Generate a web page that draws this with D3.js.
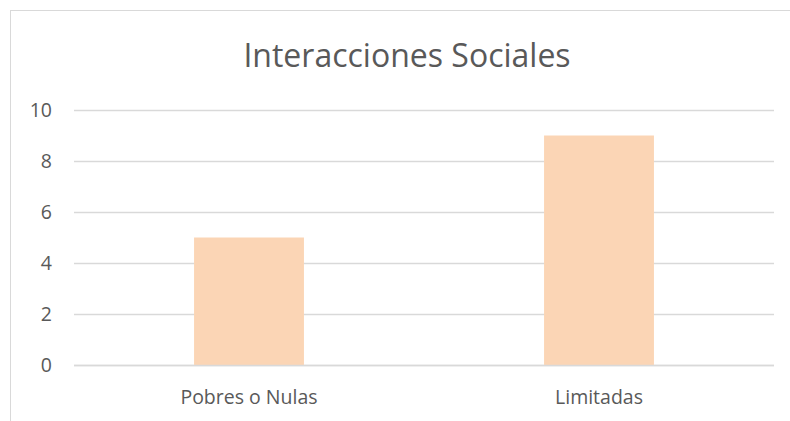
<!DOCTYPE html>
<html>
<head>
<meta charset="utf-8">
<script src="https://cdn.jsdelivr.net/npm/d3@7"></script>
<style>
  body { margin: 0; background: #fff; }
  svg text { font-family: "Open Sans", sans-serif; fill: #595959; }
</style>
</head>
<body>
<div id="chart"></div>
<script>
// Chart data
const categories = ["Pobres o Nulas", "Limitadas"];
const values = [5, 9];
const yTicks = [0, 2, 4, 6, 8, 10];

const width = 790;
const height = 421;

const svg = d3.select('#chart')
    .append('svg')
    .attr('width', width)
    .attr('height', height);

// Chart border (only top and left visible in the frame)
svg.append('rect')
    .attr('x', 10.5)
    .attr('y', 10.5)
    .attr('width', 820)
    .attr('height', 440)
    .attr('fill', 'none')
    .attr('stroke', '#d9d9d9');

// Title
svg.append('text')
    .attr('x', 407)
    .attr('y', 67)
    .attr('text-anchor', 'middle')
    .attr('font-size', '32px')
    .text('Interacciones Sociales');

// Scales
const x = d3.scaleBand()
    .domain(categories)
    .range([74, 774])
    .paddingInner(0.686)
    .paddingOuter(0.343);

const y = d3.scaleLinear()
    .domain([0, 10])
    .range([365, 110]);

// Gridlines
svg.append('g')
    .selectAll('line')
    .data(yTicks)
    .join('line')
    .attr('x1', 74)
    .attr('x2', 774)
    .attr('y1', d => Math.round(y(d)) + 0.5)
    .attr('y2', d => Math.round(y(d)) + 0.5)
    .attr('stroke', '#d9d9d9')
    .attr('stroke-width', 1.3);

// Y tick labels
svg.append('g')
    .selectAll('text')
    .data(yTicks)
    .join('text')
    .attr('x', 52)
    .attr('y', d => y(d) + 7)
    .attr('text-anchor', 'end')
    .attr('font-size', '19.5px')
    .text(d => d);

// Bars
svg.append('g')
    .selectAll('rect')
    .data(values)
    .join('rect')
    .attr('x', (d, i) => x(categories[i]))
    .attr('width', x.bandwidth())
    .attr('y', d => y(d))
    .attr('height', d => y(0) - y(d))
    .attr('fill', '#fbd5b5');

// Redraw baseline over bars
svg.append('line')
    .attr('x1', 74)
    .attr('x2', 774)
    .attr('y1', Math.round(y(0)) + 0.5)
    .attr('y2', Math.round(y(0)) + 0.5)
    .attr('stroke', '#d9d9d9')
    .attr('stroke-width', 1.3);

// Category labels
svg.append('g')
    .selectAll('text')
    .data(categories)
    .join('text')
    .attr('x', d => x(d) + x.bandwidth() / 2)
    .attr('y', 404)
    .attr('text-anchor', 'middle')
    .attr('font-size', '19.5px')
    .text(d => d);
</script>
</body>
</html>
